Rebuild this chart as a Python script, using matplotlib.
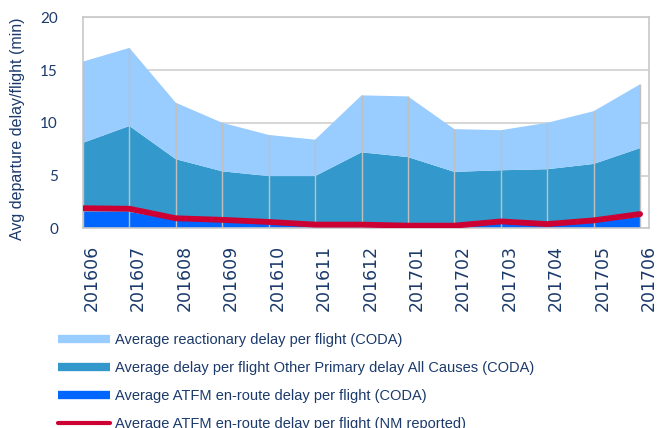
"""Monthly departure delay per flight, stacked by cause"""

import numpy as np
import matplotlib
matplotlib.use("Agg")
import matplotlib.pyplot as plt
from matplotlib.lines import Line2D

months = ["201606", "201607", "201608", "201609", "201610", "201611", "201612",
          "201701", "201702", "201703", "201704", "201705", "201706"]

# minutes per flight
atfm_coda = [1.6, 1.55, 0.8, 0.65, 0.45, 0.3, 0.3, 0.2, 0.2, 0.55, 0.3, 0.55, 1.1]
other_primary = [6.5, 8.15, 5.75, 4.75, 4.5, 4.65, 6.9, 6.55, 5.15, 4.95, 5.3, 5.55, 6.5]
reactionary = [7.7, 7.4, 5.35, 4.6, 3.9, 3.45, 5.4, 5.75, 4.05, 3.8, 4.4, 5.0, 6.05]
atfm_nm = [1.9, 1.85, 0.95, 0.8, 0.6, 0.35, 0.35, 0.25, 0.25, 0.65, 0.4, 0.75, 1.35]

labels = [
    "Average reactionary delay per flight (CODA)",
    "Average delay per flight Other Primary delay All Causes (CODA)",
    "Average ATFM en-route delay per flight (CODA)",
    "Average ATFM en-route delay per flight (NM reported)",
]

c_react = "#99CCFF"
c_other = "#3399CC"
c_atfm = "#0066FF"
c_nm = "#CC0033"
navy = "#1B3A6B"
grid_c = "#D0D0D0"


def main():
    fig = plt.figure(figsize=(6.69, 4.28), dpi=100)
    ax = fig.add_axes([0.124, 0.4666, 0.846, 0.493])

    x = np.arange(len(months))
    total = np.array(atfm_coda) + np.array(other_primary) + np.array(reactionary)
    ax.stackplot(x, atfm_coda, other_primary, reactionary,
                 colors=[c_atfm, c_other, c_react], linewidth=0, zorder=2)
    # category separators only inside the filled area
    ax.vlines(x, 0, total, color="#C0C0C0", lw=1.0, zorder=3)
    ax.plot(x, atfm_nm, color=c_nm, lw=4.2, solid_capstyle="round",
            solid_joinstyle="round", zorder=4)

    ax.set_xlim(0, len(months) - 1)
    ax.set_ylim(0, 20)
    ax.set_yticks([0, 5, 10, 15, 20])
    ax.yaxis.grid(True, color=grid_c, lw=1.2, zorder=1)
    ax.set_axisbelow(True)
    for side in ["left", "right", "bottom", "top"]:
        ax.spines[side].set_color("#C8C8C8")
        ax.spines[side].set_linewidth(1.2)
    ax.tick_params(length=0)

    # labels sit a little right of each category line
    ax.set_xticks(x + 0.19)
    ax.set_xticklabels(months, rotation=90, fontsize=12.5, color=navy,
                       family="DejaVu Sans", va="top")
    ax.tick_params(axis="x", pad=12)
    ax.tick_params(axis="y", pad=18)
    for lbl in ax.get_yticklabels():
        lbl.set_fontsize(11)
        lbl.set_color(navy)
        lbl.set_family("Lato")

    ax.set_ylabel("Avg departure delay/flight (min)", fontsize=11.5,
                  color=navy, family="Liberation Sans")
    ax.yaxis.set_label_coords(-0.103, 0.47)

    handles = [
        Line2D([], [], color=c_react, lw=6, solid_capstyle="butt"),
        Line2D([], [], color=c_other, lw=6, solid_capstyle="butt"),
        Line2D([], [], color=c_atfm, lw=6, solid_capstyle="butt"),
        Line2D([], [], color=c_nm, lw=3, solid_capstyle="round"),
    ]
    leg = fig.legend(handles, labels, loc="upper left",
                     bbox_to_anchor=(45 / 669, 1 - 320 / 428),
                     frameon=False, handlelength=3.55, handletextpad=0.35,
                     labelspacing=0.95,
                     prop={"family": "Liberation Sans", "size": 10.5})
    for t in leg.get_texts():
        t.set_color(navy)

    fig.savefig("out.png", dpi=100)


if __name__ == "__main__":
    main()
